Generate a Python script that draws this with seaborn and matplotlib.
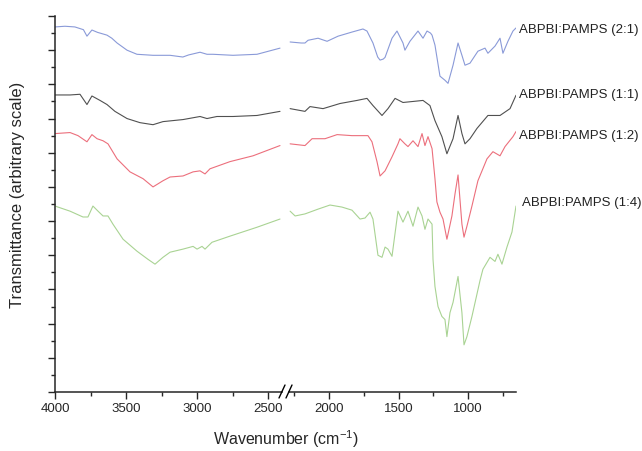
import numpy as np
import pandas as pd
import matplotlib
matplotlib.use("Agg")
import matplotlib.pyplot as plt
from matplotlib.lines import Line2D
from matplotlib.ticker import MultipleLocator, NullFormatter
import seaborn as sns

# FTIR spectra (wavenumber in cm-1, transmittance in arbitrary units)
wn_21 = [4000, 3930, 3860, 3800, 3775, 3740, 3700, 3683, 3634, 3600, 3563, 3493, 3423, 3310, 3190, 3100,
         3060, 2979, 2930, 2888, 2747, 2578, 2416,
         2280, 2200, 2173, 2151, 2079, 2014, 1935, 1835, 1756, 1727, 1684, 1650, 1633, 1610, 1597, 1547,
         1511, 1468, 1454, 1418, 1360, 1324, 1295, 1270, 1259, 1238, 1202, 1166, 1144, 1108, 1072, 1044,
         1022, 986, 929, 878, 857, 806, 770, 749, 713, 677, 655]
t_21 = [10.68, 10.70, 10.68, 10.60, 10.41, 10.59, 10.52, 10.50, 10.44, 10.35, 10.21, 10.00, 9.88, 9.85,
        9.85, 9.80, 9.86, 9.94, 9.88, 9.88, 9.85, 9.88, 10.06,
        10.24, 10.21, 10.21, 10.29, 10.35, 10.26, 10.41, 10.53, 10.62, 10.56, 10.21, 9.80, 9.71, 9.74,
        9.79, 10.35, 10.56, 10.21, 10.00, 10.26, 10.56, 10.35, 10.56, 10.50, 10.44, 10.15, 9.24, 9.12,
        9.03, 9.56, 10.21, 9.85, 9.56, 9.62, 9.97, 10.06, 9.91, 10.12, 10.35, 9.91, 10.26, 10.56, 10.65]

wn_11 = [4000, 3894, 3824, 3775, 3740, 3683, 3634, 3578, 3493, 3402, 3310, 3240, 3099, 2979, 2930, 2860,
         2747, 2578, 2416,
         2280, 2173, 2137, 2043, 1921, 1799, 1727, 1684, 1619, 1576, 1525, 1468, 1396, 1324, 1274, 1238,
         1188, 1152, 1108, 1072, 1044, 1022, 986, 936, 857, 770, 698, 655]
t_11 = [8.69, 8.69, 8.71, 8.41, 8.66, 8.53, 8.41, 8.21, 8.00, 7.88, 7.82, 7.91, 7.97, 8.06, 8.00, 8.06,
        8.06, 8.09, 8.21,
        8.29, 8.21, 8.35, 8.29, 8.44, 8.53, 8.59, 8.38, 8.09, 8.29, 8.59, 8.47, 8.50, 8.53, 8.38, 7.94,
        7.47, 6.97, 7.41, 8.09, 7.56, 7.26, 7.41, 7.71, 8.09, 8.09, 8.29, 8.68]

wn_12 = [4000, 3894, 3838, 3775, 3740, 3704, 3662, 3627, 3563, 3472, 3380, 3310, 3240, 3190, 3099, 3028,
         2979, 2944, 2909, 2768, 2606, 2416,
         2280, 2173, 2122, 2029, 1942, 1835, 1720, 1691, 1655, 1633, 1597, 1547, 1504, 1490, 1454, 1432,
         1396, 1360, 1331, 1310, 1288, 1259, 1238, 1224, 1202, 1180, 1152, 1116, 1094, 1072, 1044, 1029,
         1008, 972, 929, 864, 821, 770, 734, 677, 655]
t_12 = [7.56, 7.59, 7.50, 7.32, 7.53, 7.41, 7.35, 7.26, 6.82, 6.44, 6.24, 6.00, 6.18, 6.29, 6.32, 6.44,
        6.47, 6.38, 6.53, 6.74, 6.91, 7.21,
        7.26, 7.21, 7.41, 7.41, 7.53, 7.50, 7.50, 7.32, 6.74, 6.32, 6.47, 6.88, 7.26, 7.41, 7.26, 7.18,
        7.35, 7.18, 7.56, 7.21, 7.47, 7.12, 6.24, 5.56, 5.26, 5.06, 4.47, 5.15, 5.79, 6.35, 4.91, 4.53,
        4.85, 5.44, 6.18, 6.82, 7.03, 6.91, 7.18, 7.47, 7.62]

wn_14 = [4000, 3894, 3803, 3768, 3733, 3697, 3662, 3627, 3592, 3521, 3423, 3345, 3296, 3240, 3190, 3099,
         3028, 3000, 2965, 2944, 2895, 2768, 2578, 2416,
         2280, 2244, 2173, 2079, 1993, 1907, 1835, 1777, 1741, 1705, 1684, 1648, 1619, 1597, 1576, 1547,
         1504, 1468, 1432, 1396, 1360, 1331, 1310, 1288, 1259, 1252, 1238, 1216, 1188, 1166, 1152, 1130,
         1108, 1072, 1044, 1029, 1008, 972, 914, 893, 842, 806, 785, 756, 720, 684, 655]
t_14 = [5.44, 5.29, 5.12, 5.12, 5.44, 5.29, 5.15, 5.15, 4.91, 4.47, 4.12, 3.88, 3.74, 3.94, 4.09, 4.18,
        4.26, 4.18, 4.26, 4.18, 4.38, 4.56, 4.82, 5.06,
        5.29, 5.15, 5.21, 5.35, 5.47, 5.41, 5.32, 5.06, 5.09, 5.26, 5.06, 4.00, 3.94, 4.24, 4.18, 3.97,
        5.29, 4.97, 5.29, 4.85, 5.41, 5.15, 4.76, 5.06, 4.91, 3.88, 3.09, 2.50, 2.21, 2.12, 1.62, 2.32,
        2.62, 3.38, 2.32, 1.38, 1.62, 2.21, 3.26, 3.59, 3.94, 3.82, 4.03, 3.74, 4.24, 4.68, 5.44]

samples = ["ABPBI:PAMPS (2:1)", "ABPBI:PAMPS (1:1)", "ABPBI:PAMPS (1:2)", "ABPBI:PAMPS (1:4)"]
colors = ["#8a9ad8", "#505050", "#ec6f7c", "#a9d393"]
label_y = [10.59, 8.68, 7.50, 5.53]
label_x = [634, 634, 634, 612]

frames = []
for name, wn, t in zip(samples, [wn_21, wn_11, wn_12, wn_14], [t_21, t_11, t_12, t_14]):
    frames.append(pd.DataFrame({"wavenumber": wn, "transmittance": t, "sample": name}))
df = pd.concat(frames, ignore_index=True)

sns.set_style("ticks")
plt.rcParams["font.family"] = ["Liberation Sans", "DejaVu Sans"]
plt.rcParams["mathtext.default"] = "regular"

W, H = 642, 451
fig = plt.figure(figsize=(W / 100, H / 100), dpi=100)
# left panel 55..282 px, right panel 289..516 px, y 16..392 px
axL = fig.add_axes([55 / W, (H - 392) / H, 227 / W, 376 / H])
axR = fig.add_axes([289 / W, (H - 392) / H, 227 / W, 376 / H], sharey=axL)

pal = dict(zip(samples, colors))
left = df[df["wavenumber"] >= 2400]
right = df[df["wavenumber"] <= 2300]
for ax, d in [(axL, left), (axR, right)]:
    sns.lineplot(data=d, x="wavenumber", y="transmittance", hue="sample", palette=pal,
                 estimator=None, sort=False, legend=False, linewidth=0.8, ax=ax)
    ax.set_xlabel("")
    ax.set_ylabel("")
    for s in ["top", "right"]:
        ax.spines[s].set_visible(False)
    ax.tick_params(axis="x", which="major", length=5, width=1, labelsize=9.5, pad=3, direction="out")
    ax.tick_params(axis="x", which="minor", length=3, width=1, direction="out")
    ax.xaxis.set_major_locator(MultipleLocator(500))
    ax.xaxis.set_minor_locator(MultipleLocator(250))
    ax.spines["bottom"].set_linewidth(1.1)

axL.set_xlim(4000, 2402)
axR.set_xlim(2288, 655)
axL.set_ylim(0, 11)
axL.yaxis.set_major_locator(MultipleLocator(1))
axL.yaxis.set_minor_locator(MultipleLocator(0.5))
axL.yaxis.set_major_formatter(NullFormatter())
axL.tick_params(axis="y", which="major", length=5, width=1, direction="out")
axL.tick_params(axis="y", which="minor", length=3, width=1, direction="out")
axL.spines["left"].set_linewidth(1.1)
axR.spines["left"].set_visible(False)
axR.tick_params(axis="y", which="both", left=False, labelleft=False)

for name, c, lx, ly in zip(samples, colors, label_x, label_y):
    axR.text(lx, ly, name, ha="left", va="center", fontsize=9.5, color="#222222", clip_on=False)

# axis break marks
for x0 in (279, 286):
    fig.add_artist(Line2D([x0 / W, (x0 + 6) / W], [(H - 398) / H, (H - 385) / H],
                          color="black", lw=1.0, transform=fig.transFigure))

fig.text(285.5 / W, (H - 439) / H, "Wavenumber (cm$^{-1}$)", ha="center", va="center", fontsize=11.5)
fig.text(18 / W, (H - 195) / H, "Transmittance (arbitrary scale)", ha="center", va="center",
         rotation=90, fontsize=12)

fig.savefig("out.png", dpi=100)
